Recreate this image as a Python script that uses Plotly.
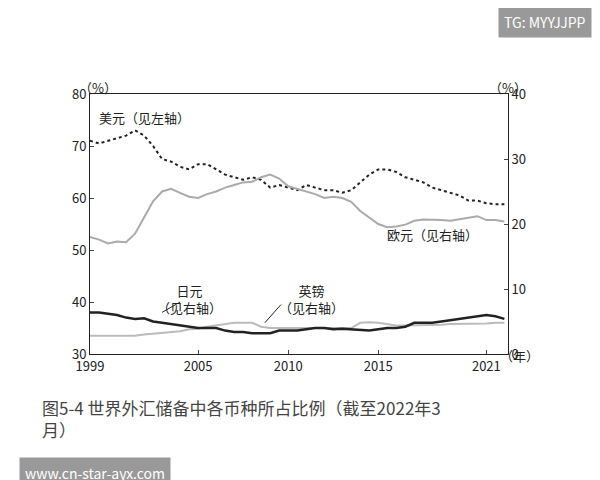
import plotly.graph_objects as go

years = [1999,1999.5,2000,2000.5,2001,2001.5,2002,2002.5,2003,2003.5,2004,2004.5,2005,2005.5,2006,2006.5,2007,2007.5,2008,2008.5,2009,2009.5,2010,2010.5,2011,2011.5,2012,2012.5,2013,2013.5,2014,2014.5,2015,2015.5,2016,2016.5,2017,2017.5,2018,2018.5,2019,2019.5,2020,2020.5,2021,2021.5,2022]
usd = [71,70.5,71,71.5,72,73,72,70,67.5,67,66,65.5,66.5,66.5,65.5,64.5,64,63.5,64,63.5,62,62.5,62,61.5,62.5,62,61.5,61.5,61,61.5,63,64.5,65.5,65.5,65,64,63.5,63,62,61.5,61,60.5,59.5,59.5,59,58.8,58.8]
eur = [18,17.6,17,17.3,17.2,18.5,21,23.5,25,25.4,24.8,24.2,24,24.6,25,25.6,26,26.4,26.5,27.2,27.6,27,25.8,25.4,25,24.6,24,24.2,24,23.4,22,21,20,19.5,19.6,19.9,20.5,20.7,20.7,20.6,20.5,20.7,21,21.2,20.6,20.6,20.4]
jpy = [6.4,6.4,6.2,6,5.6,5.4,5.5,5,4.8,4.6,4.5,4.3,4,4,4,3.6,3.4,3.4,3.2,3.2,3.2,3.6,3.6,3.6,3.8,4,4,3.8,3.9,3.8,3.6,3.6,3.8,4,4,4.2,4.8,4.8,4.8,5,5.2,5.5,5.6,5.8,6,5.8,5.4]
gbp = [2.8,2.8,2.8,2.8,2.8,2.8,3,3.1,3.2,3.4,3.5,3.8,3.9,4.2,4.4,4.6,4.8,4.8,4.8,4.2,4,4,4,4,4,4,4,4,4,4,4.8,4.9,4.8,4.6,4.4,4.4,4.4,4.4,4.4,4.5,4.6,4.6,4.7,4.7,4.7,4.8,4.8]

fig = go.Figure()
fig.add_trace(go.Scatter(x=years, y=usd, mode="lines", line=dict(color="#222", width=2, dash="dot"), yaxis="y"))
fig.add_trace(go.Scatter(x=years, y=eur, mode="lines", line=dict(color="#aaa", width=2), yaxis="y2"))
fig.add_trace(go.Scatter(x=years, y=gbp, mode="lines", line=dict(color="#bbb", width=2), yaxis="y2"))
fig.add_trace(go.Scatter(x=years, y=jpy, mode="lines", line=dict(color="#222", width=2.5), yaxis="y2"))

font = "Noto Sans CJK SC"
fig.update_layout(
    width=600, height=480, showlegend=False, paper_bgcolor="white", plot_bgcolor="white",
    margin=dict(l=82, r=100, t=86, b=134),
    font=dict(family=font, size=13, color="#222"),
    xaxis=dict(range=[1999, 2022.2], tickvals=[1999,2005,2010,2015,2021], showline=True, linecolor="#222",
               ticks="inside", ticklen=4, showgrid=False, zeroline=False, mirror=True),
    yaxis=dict(range=[30, 80], dtick=10, showline=True, linecolor="#222", ticks="inside", ticklen=4,
               showgrid=False, zeroline=False),
    yaxis2=dict(range=[0, 40], dtick=10, overlaying="y", side="right", showline=True, linecolor="#222",
                ticks="inside", ticklen=4, showgrid=False, zeroline=False),
    annotations=[
        dict(text="（%）", x=-0.03, y=1.07, xref="paper", yref="paper", showarrow=False, font=dict(size=13)),
        dict(text="（%）", x=1.05, y=1.07, xref="paper", yref="paper", showarrow=False, font=dict(size=13)),
        dict(text="（年）", x=1.08, y=-0.05, xref="paper", yref="paper", showarrow=False, font=dict(size=13)),
        dict(text="美元（见左轴）", x=2002, y=75.5, xref="x", yref="y", showarrow=False),
        dict(text="欧元（见右轴）", x=2018, y=53, xref="x", yref="y", showarrow=False),
        dict(text="日元<br>（见右轴）", x=2004.5, y=40.5, xref="x", yref="y", showarrow=False, align="center"),
        dict(text="英镑<br>（见右轴）", x=2011.3, y=40.5, xref="x", yref="y", showarrow=False, align="center"),
        dict(text="图5-4 世界外汇储备中各币种所占比例（截至2022年3<br>月）", x=-0.12, y=-0.15, xref="paper", yref="paper",
             xanchor="left", yanchor="top", showarrow=False, align="left", font=dict(size=17, color="#444")),
        dict(text="TG: MYYJJPP", x=1.2, y=1.34, xref="paper", yref="paper", xanchor="right", yanchor="top",
             showarrow=False, bgcolor="#999", font=dict(color="white", size=14), borderpad=5),
        dict(text="www.cn-star-ayx.com", x=-0.17, y=-0.52, xref="paper", yref="paper", xanchor="left", yanchor="bottom",
             showarrow=False, bgcolor="#999", font=dict(color="white", size=14), borderpad=5),
    ],
    shapes=[
        dict(type="line", x0=2003, y0=38, x1=2004, y1=40, xref="x", yref="y", line=dict(color="#222", width=1)),
        dict(type="line", x0=2008.7, y0=36, x1=2009.6, y1=39.5, xref="x", yref="y", line=dict(color="#222", width=1)),
    ],
)
fig.write_html("out.html")
